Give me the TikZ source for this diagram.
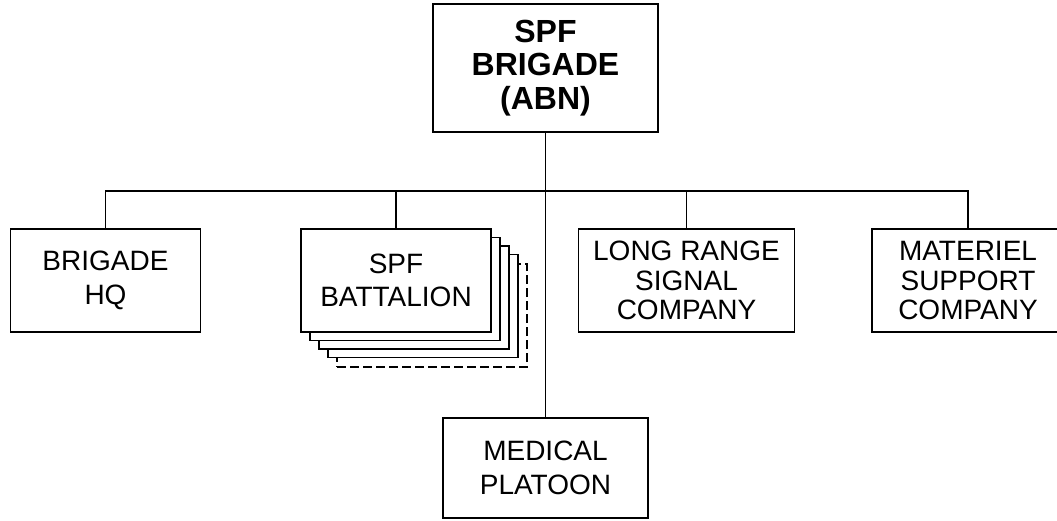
\documentclass[tikz,border=0pt]{standalone}
\usepackage{fontspec}
\setmainfont{Liberation Sans}
\usepackage{tikz}

\begin{document}
\begin{tikzpicture}[x=1pt,y=-1pt,line width=1.6pt,
  unit/.style={draw,fill=white,align=center,inner sep=0pt,minimum height=103pt,
    font=\fontsize{28}{29.5}\selectfont},
  widelines/.style={font=\fontsize{28}{33.5}\selectfont}]
\useasboundingbox (0,0) rectangle (1057,520);

\node[unit,minimum width=225pt,minimum height=128pt,font=\fontsize{32}{33.5}\selectfont\bfseries] (bde) at (545.5,68) {SPF\\BRIGADE\\(ABN)};

\node[unit,widelines,minimum width=190pt] (hq) at (105.5,280.5) {BRIGADE\\HQ};

% battalion stack, back to front
\node[unit,minimum width=190pt,dashed,dash pattern=on 9pt off 4pt] (bn4) at (396+36,280.5+35) {};
\foreach \k in {3,2,1}
  \node[unit,minimum width=190pt] (bn\k) at (396+9*\k,280.5+8.5*\k) {};
\node[unit,widelines,minimum width=190pt] (bn) at (396,280.5) {SPF\\BATTALION};

\node[unit,minimum width=216pt] (lrs) at (686.5,280.5) {LONG RANGE\\SIGNAL\\COMPANY};
\node[unit,minimum width=192pt] (msc) at (968,280.5) {MATERIEL\\SUPPORT\\COMPANY};
\node[unit,widelines,minimum width=205pt,minimum height=100pt] (med) at (545.5,468) {MEDICAL\\PLATOON};

\coordinate (bus) at (545.5,191);
\draw (bde.south) -- (med.north);
\draw (hq.north) |- (bus) -| (msc.north);
\draw (bn.north) -- (bn.north |- bus);
\draw (lrs.north) -- (lrs.north |- bus);
\end{tikzpicture}
\end{document}
